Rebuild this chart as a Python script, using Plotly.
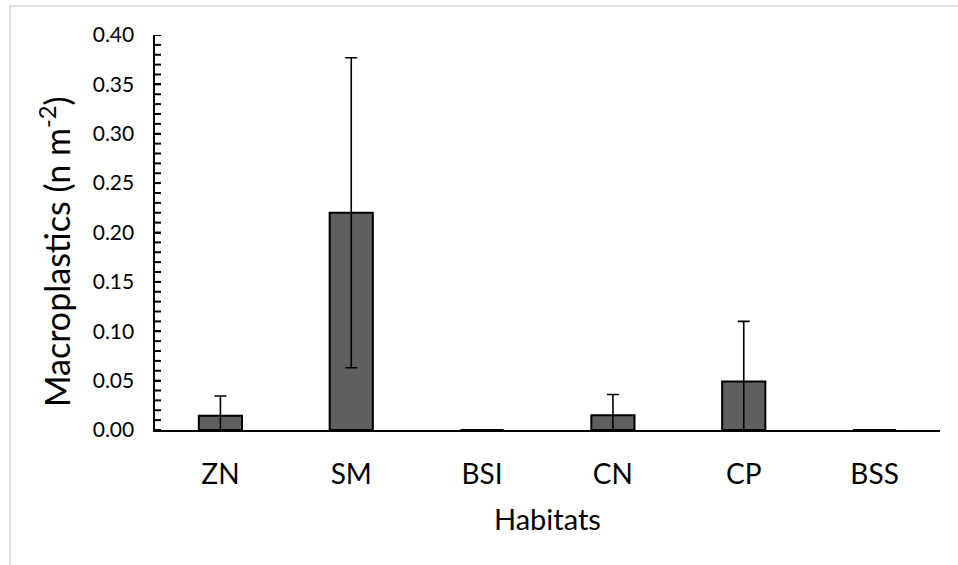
import plotly.graph_objects as go

# Mean macroplastic density per habitat with error (n m-2)
habitats = ["ZN", "SM", "BSI", "CN", "CP", "BSS"]
density = [0.0145, 0.22, 0.0, 0.015, 0.049, 0.0]
error = [0.020, 0.157, 0.0, 0.021, 0.061, 0.0]

# y-axis tick marks every 0.01 from 0 to 0.40
y_ticks = [round(i * 0.01, 2) for i in range(41)]

FONT = "Lato, 'Open Sans', sans-serif"

# plot area in pixels: x 155..940, y 35..430
L, R, T, B = 155, 18, 35, 135
W, H = 958, 565
pw, ph = W - L - R, H - T - B


def px_x(x):
    return (x - L) / pw


def px_y(y):
    return (H - B - y) / ph


fig = go.Figure()
fig.add_trace(go.Bar(
    x=habitats,
    y=density,
    marker=dict(color="#5f5f5f", line=dict(color="#000000", width=2)),
    error_y=dict(type="data", array=error, symmetric=True,
                 color="#000000", thickness=1.6, width=6),
    width=0.33,
))

# short inward tick marks along the y axis
tick_shapes = [
    dict(type="line", xref="paper", yref="y",
         x0=0, x1=6 / pw, y0=v, y1=v,
         line=dict(color="#000000", width=2), layer="above")
    for v in y_ticks
]

fig.update_layout(
    width=W, height=H,
    margin=dict(l=L, r=R, t=T, b=B),
    plot_bgcolor="white", paper_bgcolor="white",
    showlegend=False,
    font=dict(family=FONT, color="#000000", size=21),
    xaxis=dict(
        showline=True, linecolor="#000000", linewidth=2,
        # invisible outside ticks set the gap between axis and labels
        ticks="outside", ticklen=18, tickcolor="rgba(0,0,0,0)",
        showgrid=False,
        tickfont=dict(size=28),
    ),
    yaxis=dict(
        range=[0, 0.40], dtick=0.05, tickformat=".2f",
        ticksuffix="\u2007\u2009",
        showline=True, linecolor="#000000", linewidth=1.5,
        ticks="inside", ticklen=6, tickwidth=2, tickcolor="#000000",
        showgrid=False, zeroline=False,
        tickfont=dict(size=21),
    ),
    annotations=[
        dict(text="Habitats", xref="paper", yref="paper",
             x=px_x(547.5), y=px_y(518), xanchor="center", yanchor="middle",
             showarrow=False, font=dict(size=29)),
        dict(text="Macroplastics (n m<sup>-2</sup>)", xref="paper", yref="paper",
             x=px_x(55), y=px_y(252), xanchor="center", yanchor="middle",
             textangle=-90, showarrow=False, font=dict(size=34)),
    ],
    shapes=[dict(type="rect", xref="paper", yref="paper",
                 x0=px_x(10), y0=-0.5, x1=1.1, y1=px_y(6),
                 line=dict(color="#d9d9d9", width=1.5),
                 fillcolor="rgba(0,0,0,0)", layer="below")] + tick_shapes,
)

fig.write_html("out.html")
